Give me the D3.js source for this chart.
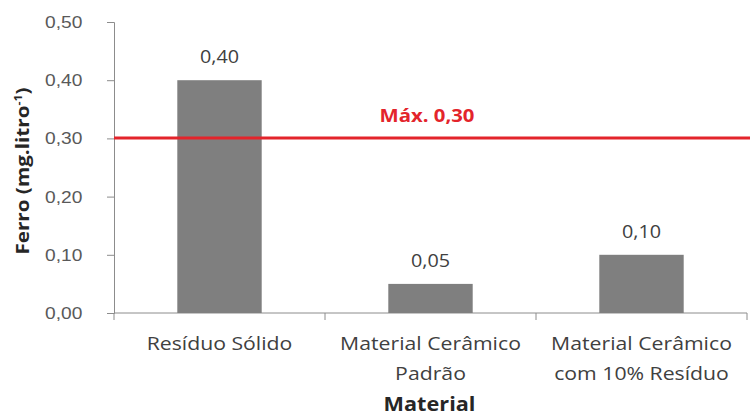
<!DOCTYPE html>
<html>
<head>
<meta charset="utf-8">
<script src="https://cdn.jsdelivr.net/npm/d3@7"></script>
<style>
  html, body { margin: 0; padding: 0; background: #fff; }
  svg { display: block; font-family: "Open Sans", "Noto Sans", sans-serif; }
</style>
</head>
<body>
<svg id="chart" width="750" height="419"></svg>
<script>
// Iron content per material
const categories = [
  ["Resíduo Sólido"],
  ["Material Cerâmico", "Padrão"],
  ["Material Cerâmico", "com 10% Resíduo"]
];
const values = [0.40, 0.05, 0.10];
const valueLabels = ["0,40", "0,05", "0,10"];
const yTicks = [0, 0.1, 0.2, 0.3, 0.4, 0.5];
const limitValue = 0.30;
const limitLabel = "Máx. 0,30";

const svg = d3.select("#chart");
const margin = { left: 114, right: 3, top: 22, bottom: 106 };
const width = 750, height = 419;
const SX = 1.13; // horizontal widening applied to all labels

const x = d3.scaleBand()
  .domain(d3.range(categories.length))
  .range([margin.left, width - margin.right])
  .paddingInner(0.6)
  .paddingOuter(0.3);

const y = d3.scaleLinear()
  .domain([0, 0.5])
  .range([height - margin.bottom, margin.top]);

const fmt = d => d3.format(".2f")(d).replace(".", ",");
const axisColor = "#8c8c8c";

// y axis
const yAxis = svg.append("g")
  .attr("transform", `translate(${margin.left},0)`)
  .call(d3.axisLeft(y).tickValues(yTicks).tickFormat(fmt).tickSize(7).tickPadding(21));
yAxis.select(".domain").attr("stroke", axisColor);
yAxis.selectAll(".tick line").attr("stroke", axisColor);
yAxis.selectAll(".tick text")
  .attr("fill", "#595959")
  .attr("font-size", 17)
  .attr("font-family", null)
  .attr("transform", `scale(${SX},1)`);

// x axis with boundary ticks between categories
const xAxisG = svg.append("g").attr("transform", `translate(0,${y(0)})`);
xAxisG.append("line")
  .attr("x1", margin.left).attr("x2", width - margin.right)
  .attr("stroke", axisColor);
const step = x.step();
const bounds = d3.range(categories.length + 1).map(i => x(0) - x.paddingOuter() * step + i * step);
xAxisG.selectAll("line.bt").data(bounds).join("line")
  .attr("class", "bt")
  .attr("x1", d => d).attr("x2", d => d)
  .attr("y1", 0).attr("y2", 7)
  .attr("stroke", axisColor);

// bars
svg.selectAll("rect.bar").data(values).join("rect")
  .attr("class", "bar")
  .attr("x", (d, i) => x(i))
  .attr("width", x.bandwidth())
  .attr("y", d => y(d))
  .attr("height", d => y(0) - y(d))
  .attr("fill", "#7f7f7f");

// value labels
svg.selectAll("text.val").data(values).join("text")
  .attr("class", "val")
  .attr("transform", (d, i) => `translate(${x(i) + x.bandwidth() / 2},${y(d) - 17}) scale(${SX},1)`)
  .attr("text-anchor", "middle")
  .attr("fill", "#404040")
  .attr("font-size", 17.5)
  .text((d, i) => valueLabels[i]);

// limit line
svg.append("line")
  .attr("x1", margin.left).attr("x2", width)
  .attr("y1", y(limitValue) - 0.5).attr("y2", y(limitValue) - 0.5)
  .attr("stroke", "#e3242b")
  .attr("stroke-width", 3);
svg.append("text")
  .attr("transform", `translate(427,${y(limitValue) - 16}) scale(${SX},1)`)
  .attr("text-anchor", "middle")
  .attr("fill", "#e3242b")
  .attr("font-weight", "bold")
  .attr("font-size", 18)
  .text(limitLabel);

// category labels
const catG = svg.selectAll("g.cat").data(categories).join("g")
  .attr("class", "cat")
  .attr("transform", (d, i) => `translate(${x(i) + x.bandwidth() / 2},${y(0) + 37})`);
catG.each(function (lines) {
  d3.select(this).selectAll("text").data(lines).join("text")
    .attr("transform", (d, j) => `translate(0,${j * 30}) scale(${SX},1)`)
    .attr("text-anchor", "middle")
    .attr("fill", "#404040")
    .attr("font-size", 18.8)
    .text(d => d);
});

// axis titles
svg.append("text")
  .attr("transform", `translate(${x(1) + x.bandwidth() / 2 - 1},411) scale(${SX},1)`)
  .attr("text-anchor", "middle")
  .attr("font-weight", "bold")
  .attr("font-size", 19.2)
  .attr("fill", "#262626")
  .text("Material");

const yTitle = svg.append("text")
  .attr("transform", `translate(29,171) rotate(-90) scale(${SX},1)`)
  .attr("text-anchor", "middle")
  .attr("font-weight", "bold")
  .attr("font-size", 18.3)
  .attr("fill", "#262626");
yTitle.append("tspan").text("Ferro (mg.litro");
yTitle.append("tspan").attr("font-size", 11).attr("dy", -7).text("-1");
yTitle.append("tspan").attr("dy", 7).text(")");
</script>
</body>
</html>
